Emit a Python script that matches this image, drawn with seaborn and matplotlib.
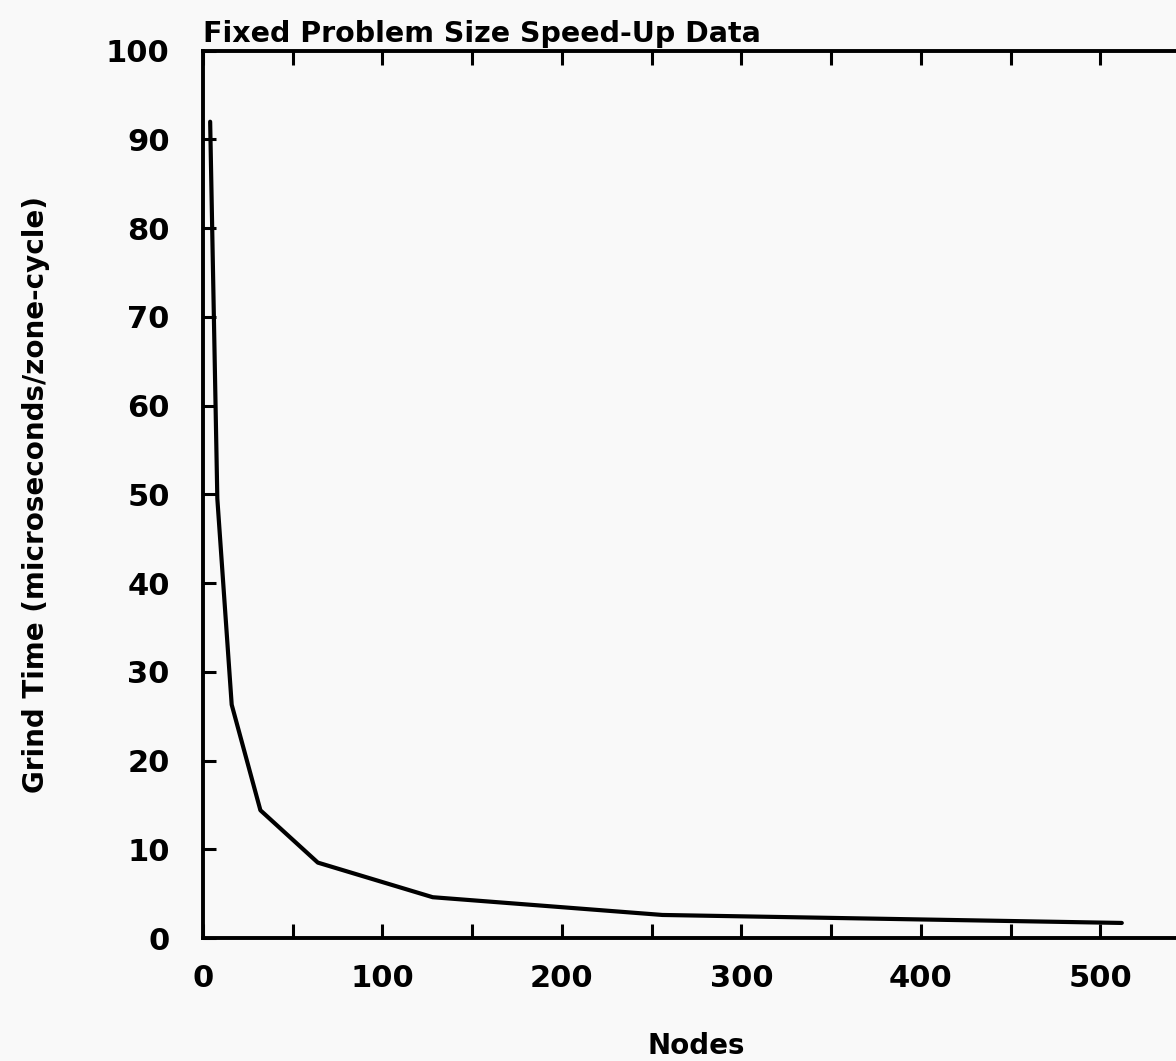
import matplotlib
matplotlib.use("Agg")
import matplotlib.pyplot as plt
import seaborn as sns
import pandas as pd
from matplotlib.ticker import MultipleLocator, FixedLocator

# Data
nodes = [4, 8, 16, 32, 64, 128, 256, 512]
grind_time = [92.0, 49.5, 26.3, 14.4, 8.5, 4.6, 2.6, 1.7]

x_ticks = [0, 100, 200, 300, 400, 500]
y_ticks = [0, 10, 20, 30, 40, 50, 60, 70, 80, 90, 100]

title = "Fixed Problem Size Speed-Up Data"
xlabel = "Nodes"
ylabel = "Grind Time (microseconds/zone-cycle)"

df = pd.DataFrame({"Nodes": nodes, "Grind": grind_time})

sns.set_style("ticks")
plt.rcParams['font.family'] = ['DejaVu Sans']
plt.rcParams['text.color'] = 'black'
plt.rcParams['axes.labelcolor'] = 'black'

fig = plt.figure(figsize=(11.76, 10.61), dpi=100, facecolor="#f9f9f9")
ax = fig.add_axes([0.1726, 0.1159, 0.8393, 0.8363])
ax.set_facecolor("#f9f9f9")

sns.lineplot(data=df, x="Nodes", y="Grind", ax=ax, color="black", linewidth=3.0)

ax.set_xlim(0, 550)
ax.set_ylim(0, 100)

ax.xaxis.set_major_locator(FixedLocator(x_ticks))
ax.xaxis.set_minor_locator(MultipleLocator(50))
ax.yaxis.set_major_locator(FixedLocator(y_ticks))

ax.tick_params(axis="x", which="both", direction="in", length=10, width=2.2,
               top=True, bottom=True, labelsize=22, pad=19, colors="black")
ax.tick_params(axis="y", which="both", direction="in", length=9, width=2.2,
               left=True, right=False, labelsize=22, pad=24, colors="black")
for lab in ax.get_xticklabels() + ax.get_yticklabels():
    lab.set_fontweight("bold")

for side in ["left", "bottom", "top"]:
    ax.spines[side].set_visible(True)
    ax.spines[side].set_linewidth(2.8)
    ax.spines[side].set_color("black")
ax.spines["right"].set_visible(False)

ax.set_xlabel(xlabel, fontsize=20, labelpad=28, fontweight="semibold", color="black")
ax.set_ylabel(ylabel, fontsize=20, labelpad=40, fontweight="semibold", color="black")
ax.set_title(title, fontsize=20.5, loc="left", pad=6, fontweight="semibold", color="black")

fig.savefig("out.png", dpi=100, facecolor="#f9f9f9")
